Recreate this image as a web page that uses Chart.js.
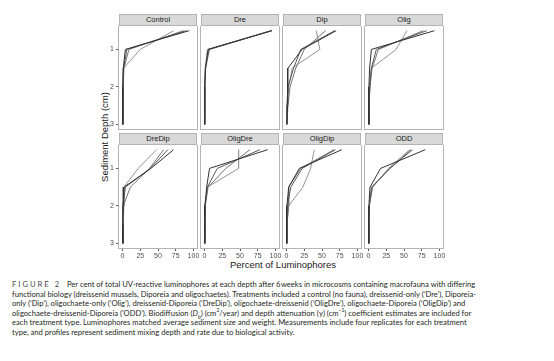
<!DOCTYPE html>
<html>
<head>
<meta charset="utf-8">
<script src="https://cdn.jsdelivr.net/npm/chart.js@4.4.1/dist/chart.umd.min.js"></script>
<style>
  body { margin: 0; background: #fff; }
  #fig { position: relative; width: 554px; height: 361px; overflow: hidden; font-family: "Liberation Sans", Arial, sans-serif; }
  #fig canvas { position: absolute; }
  .strip { position: absolute; height: 12px; box-sizing: border-box; background: #d9d9d9; border: 1px solid #b3b3b3;
           font-size: 7.5px; line-height: 10px; text-align: center; color: #1a1a1a; }
  .axis-title { position: absolute; font-size: 9.5px; color: #1a1a1a; white-space: nowrap; transform: translate(-50%, -50%); }
  #ytitle { transform: translate(-50%, -50%) rotate(-90deg); }
  #caption { position: absolute; left: 12px; top: 280px; font-family: Lato, "Open Sans", sans-serif; font-size: 7.6px;
             line-height: 9.6px; color: #231f20; white-space: nowrap; }
  #caption .fig { letter-spacing: 2px; color: #4a4a4a; margin-right: 4px; }
  #caption sub, #caption sup { font-size: 5px; line-height: 0; }
</style>
</head>
<body>
<div id="fig">
  <div id="ytitle" class="axis-title" style="left:104px; top:137px;">Sediment Depth (cm)</div>
  <div class="axis-title" style="left:283px; top:264px;">Percent of Luminophores</div>
  <div id="caption">
    <span class="fig">FIGURE 2</span> Per cent of total UV-reactive luminophores at each depth after 6&#8202;weeks in microcosms containing macrofauna with differing<br>
    functional biology (dreissenid mussels, Diporeia and oligochaetes). Treatments included a control (no fauna), dreissenid-only (‘Dre’), Diporeia-<br>
    only (‘Dip’), oligochaete-only (‘Olig’), dreissenid-Diporeia (‘DreDip’), oligochaete-dreissenid (‘OligDre’), oligochaete-Diporeia (‘OligDip’) and<br>
    oligochaete-dreissenid-Diporeia (‘ODD’). Biodiffusion (<i>D</i><sub>b</sub>) (cm<sup>2</sup>/year) and depth attenuation (γ) (cm<sup>−1</sup>) coefficient estimates are included for<br>
    each treatment type. Luminophores matched average sediment size and weight. Measurements include four replicates for each treatment<br>
    type, and profiles represent sediment mixing depth and rate due to biological activity.
  </div>
</div>

<script>
// depth of each sampled layer (cm)
const DEPTHS = [0.5, 1, 1.5, 2, 2.5, 3];

// percent of luminophores per layer, 4 replicates per treatment
const CONTROL = [
  [94, 4, 1, 0.5, 0.3, 0.2],
  [90, 6, 1.5, 0.5, 0.3, 0.2],
  [86, 9, 2, 1, 0.5, 0.5],
  [72, 25, 1.5, 0.5, 0.3, 0.2]
];
const DRE = [
  [95, 5, 1.5, 0.3, 0.2, 0.1],
  [95, 6, 1, 0.3, 0.2, 0.1],
  [94, 7, 1.5, 0.3, 0.2, 0.1],
  [94, 4, 1, 0.3, 0.2, 0.1]
];
const DIP = [
  [70, 22, 2, 2, 1, 0.5],
  [68, 20, 10, 2, 0.5, 0.5],
  [55, 25, 13, 5, 2, 0.5],
  [42, 47, 8, 3, 1, 0.5]
];
const OLIG = [
  [93, 4, 1.5, 0.5, 0.3, 0.2],
  [82, 11, 4, 2, 0.5, 0.5],
  [77, 14, 5, 2, 0.5, 0.5],
  [54, 39, 4, 1, 0.5, 0.5]
];
const DREDIP = [
  [72, 40, 2, 1, 0.5, 0.5],
  [64, 39, 4, 0.5, 0.3, 0.2],
  [58, 38, 11, 1, 0.5, 0.3],
  [48, 22, 2, 2, 0.5, 0.3]
];
const OLIGDRE = [
  [89, 7, 3, 0.5, 0.3, 0.2],
  [78, 18, 4, 0.5, 0.3, 0.2],
  [64, 30, 5, 1, 0.5, 0.3],
  [48, 48, 4, 1, 0.5, 0.3]
];
const OLIGDIP = [
  [78, 18, 3, 0.5, 0.3, 0.2],
  [69, 22, 6, 1, 0.5, 0.3],
  [67, 20, 3, 3, 0.5, 0.3],
  [39, 34, 23, 3, 0.5, 0.3]
];
const ODD = [
  [80, 17, 2, 0.5, 0.3, 0.2],
  [62, 30, 5, 1, 0.5, 0.3],
  [60, 30, 4, 1, 0.5, 0.3],
  [58, 28, 6, 1, 0.5, 0.3]
];

const PANEL_NAMES = ["Control", "Dre", "Dip", "Olig", "DreDip", "OligDre", "OligDip", "ODD"];
const PANEL_DATA = [CONTROL, DRE, DIP, OLIG, DREDIP, OLIGDRE, OLIGDIP, ODD];

const DEPTH_TICKS = [1, 2, 3];
const PCT_TICKS = [0, 25, 50, 75, 100];

const REP_COLORS = ["#333333", "#555555", "#737373", "#939393"];

/* ---------- panel geometry ---------- */
const COL_X = [119, 201, 283, 365];
const ROW_Y = [26, 145];
const PW = 78, PH = 103, STRIP_H = 12;
const LEFT_PAD = 22, RIGHT_PAD = 10, BOTTOM_PAD = 16;

const panelBorder = {
  id: "panelBorder",
  afterDraw(chart) {
    const a = chart.chartArea, ctx = chart.ctx;
    ctx.save();
    ctx.strokeStyle = "#b3b3b3";
    ctx.lineWidth = 1;
    ctx.strokeRect(a.left - 0.5, a.top - 0.5, a.right - a.left + 1, a.bottom - a.top + 1);
    ctx.restore();
  }
};

const fig = document.getElementById("fig");

PANEL_DATA.forEach((reps, i) => {
  const col = i % 4, row = Math.floor(i / 4);
  const px = COL_X[col], py = ROW_Y[row];

  const strip = document.createElement("div");
  strip.className = "strip";
  strip.style.left = px + "px";
  strip.style.top = (py - STRIP_H) + "px";
  strip.style.width = PW + "px";
  strip.textContent = PANEL_NAMES[i];
  fig.appendChild(strip);

  const canvas = document.createElement("canvas");
  const cw = PW + LEFT_PAD + RIGHT_PAD, ch = PH + BOTTOM_PAD;
  canvas.width = cw; canvas.height = ch;
  canvas.style.left = (px - LEFT_PAD) + "px";
  canvas.style.top = py + "px";
  canvas.style.width = cw + "px";
  canvas.style.height = ch + "px";
  fig.appendChild(canvas);

  const tickFont = { family: "Liberation Sans", size: 7 };

  const yScale = {
    type: "linear", reverse: true, min: 0.375, max: 3.125,
    display: col === 0,
    grid: { drawOnChartArea: false, drawTicks: true, tickLength: 3, color: "#5a5a5a" },
    border: { display: false },
    ticks: { color: "#4d4d4d", font: tickFont, padding: 2 },
    afterBuildTicks: s => { s.ticks = DEPTH_TICKS.map(v => ({ value: v })); }
  };
  if (col === 0) {
    yScale.afterFit = s => { s.width = LEFT_PAD; s.paddingTop = 0; s.paddingBottom = 0; };
  }

  const xScale = {
    type: "linear", min: -5, max: 105,
    display: row === 1,
    grid: { drawOnChartArea: false, drawTicks: true, tickLength: 3, color: "#5a5a5a" },
    border: { display: false },
    ticks: { color: "#4d4d4d", font: tickFont, padding: 1, maxRotation: 0 },
    afterBuildTicks: s => { s.ticks = PCT_TICKS.map(v => ({ value: v })); }
  };
  if (row === 1) {
    xScale.afterFit = s => { s.height = BOTTOM_PAD; s.paddingLeft = 0; s.paddingRight = 0; };
  }

  new Chart(canvas, {
    type: "line",
    data: {
      datasets: reps.map((vals, r) => ({
        data: DEPTHS.map((d, k) => ({ x: vals[k], y: d })),
        borderColor: REP_COLORS[r],
        borderWidth: 1,
        pointRadius: 0,
        tension: 0,
        fill: false
      }))
    },
    options: {
      responsive: false,
      animation: false,
      devicePixelRatio: 1,
      layout: {
        padding: {
          left: col === 0 ? 0 : LEFT_PAD,
          right: RIGHT_PAD,
          top: 0,
          bottom: row === 1 ? 0 : BOTTOM_PAD
        }
      },
      plugins: { legend: { display: false }, tooltip: { enabled: false } },
      scales: { x: xScale, y: yScale }
    },
    plugins: [panelBorder]
  });
});
</script>
</body>
</html>
